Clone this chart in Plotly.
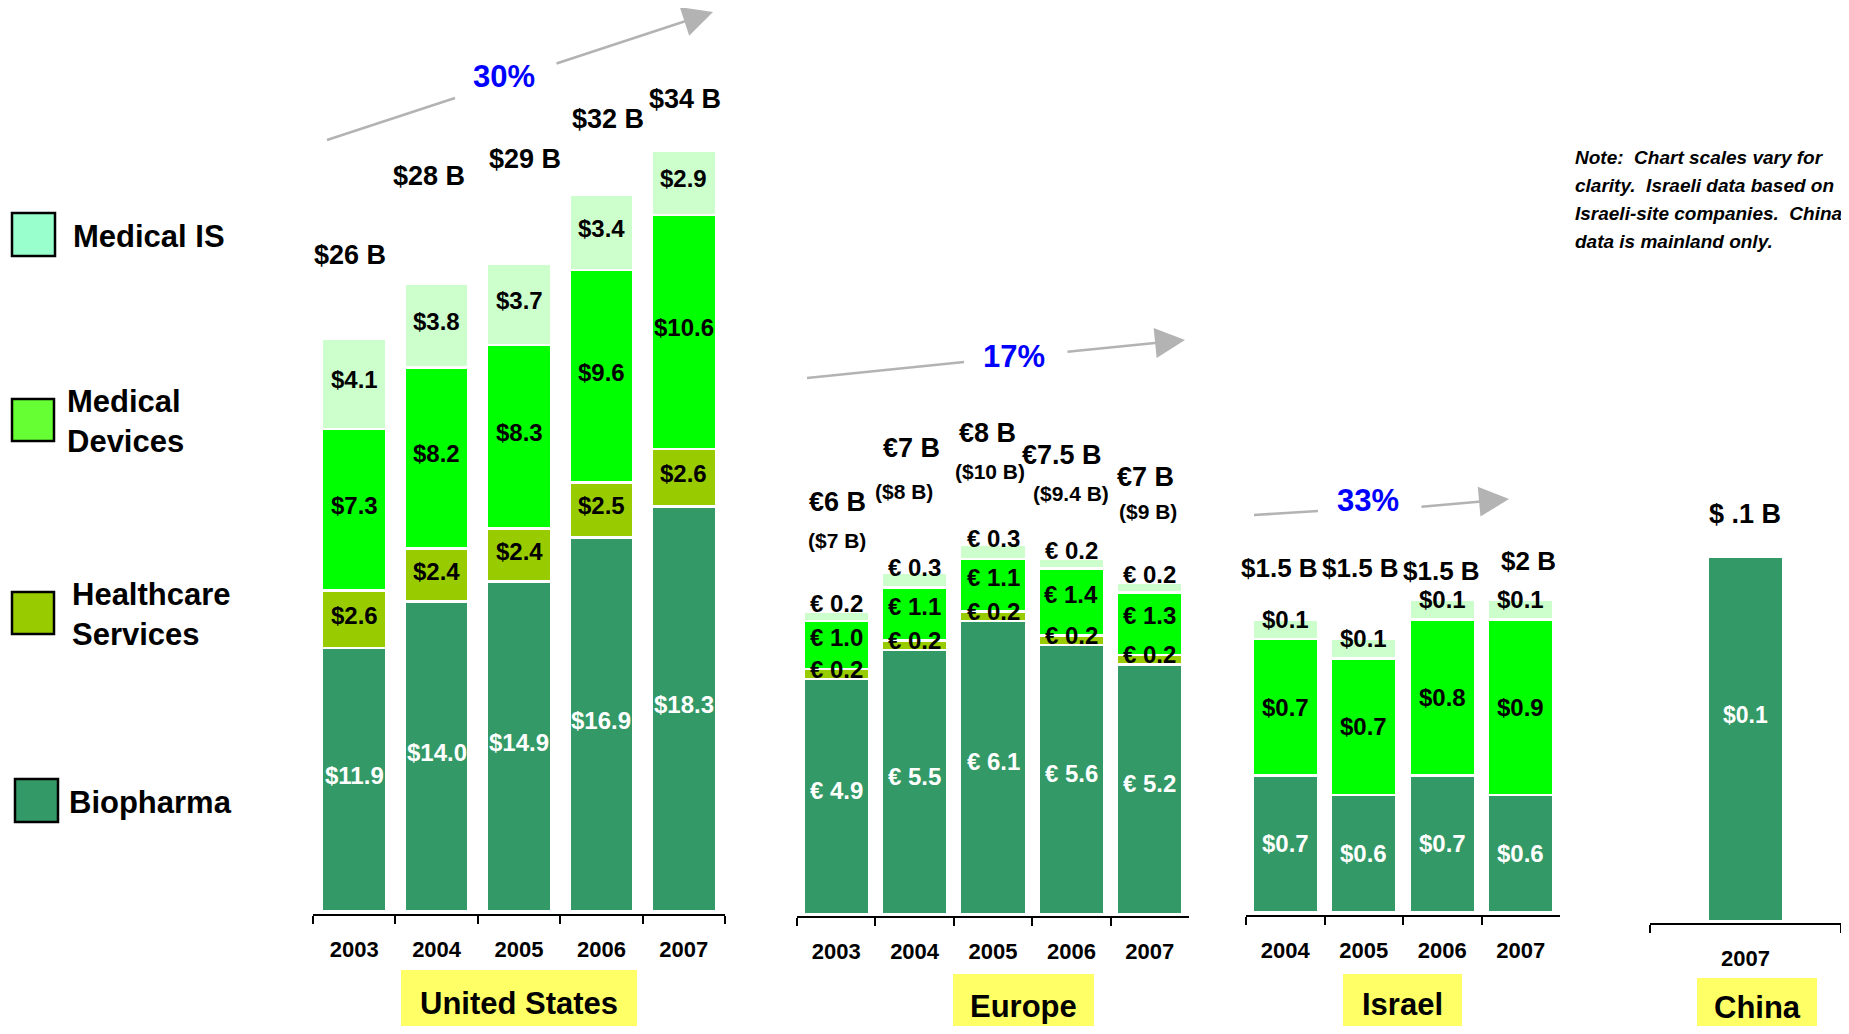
import plotly.graph_objects as go

# ---------------- data ----------------
us_years = ["2003", "2004", "2005", "2006", "2007"]
us_bio = [11.9, 14.0, 14.9, 16.9, 18.3]
us_hs = [2.6, 2.4, 2.4, 2.5, 2.6]
us_md = [7.3, 8.2, 8.3, 9.6, 10.6]
us_mis = [4.1, 3.8, 3.7, 3.4, 2.9]
us_totals = ["$26 B", "$28 B", "$29 B", "$32 B", "$34 B"]

eu_years = ["2003", "2004", "2005", "2006", "2007"]
eu_bio = [4.9, 5.5, 6.1, 5.6, 5.2]
eu_hs = [0.2, 0.2, 0.2, 0.2, 0.2]
eu_md = [1.0, 1.1, 1.1, 1.4, 1.3]
eu_mis = [0.2, 0.3, 0.3, 0.2, 0.2]
eu_totals = ["€6 B", "€7 B", "€8 B", "€7.5 B", "€7 B"]
eu_totals_usd = ["($7 B)", "($8 B)", "($10 B)", "($9.4 B)", "($9 B)"]

il_years = ["2004", "2005", "2006", "2007"]
il_bio = [0.7, 0.6, 0.7, 0.6]
il_hs = [0.0, 0.0, 0.0, 0.0]
il_md = [0.7, 0.7, 0.8, 0.9]
il_mis = [0.1, 0.1, 0.1, 0.1]
il_totals = ["$1.5 B", "$1.5 B", "$1.5 B", "$2 B"]

cn_years = ["2007"]
cn_bio = [0.1]
cn_totals = ["$ .1 B"]

growth = ["30%", "17%", "33%"]
countries = ["United States", "Europe", "Israel", "China"]
series_names = ["Biopharma", "Healthcare Services", "Medical Devices", "Medical IS"]
note_lines = ["Note:  Chart scales vary for", "clarity.  Israeli data based on",
              "Israeli-site companies.  China", "data is mainland only."]

# ---------------- style ----------------
OFF = 8                      # page body margin
W, H = 1849 - 2 * OFF, 1034 - 2 * OFF
FONT = "Liberation Sans, Arial, sans-serif"
C_BIO, C_HS, C_MD, C_MIS = "#339966", "#99cc00", "#00ff00", "#ccffcc"
LEG_COLORS = {"Medical IS": "#99ffcc", "Medical Devices": "#66ff33",
              "Healthcare Services": "#99cc00", "Biopharma": "#339966"}
GRAY = "#b3b3b3"


def X(p):
    return min(1.0, max(0.0, (p - OFF) / W))


def Y(p):
    return min(1.0, max(0.0, 1 - (p - OFF) / H))


def F(size, color="black", style="normal"):
    return dict(family=FONT, size=size, weight="bold", color=color, style=style)


def txt(x, y, text, font, xanchor="center", yanchor="middle"):
    return dict(x=X(x), y=Y(y), xref="paper", yref="paper", text=text, showarrow=False,
                xanchor=xanchor, yanchor=yanchor, font=font)


fig = go.Figure()

# panel geometry (pixels): x domain, axis line y, zero y, px per unit, top y, bar width
panels = [
    dict(ax="", x0=313, x1=725, axis=914, zero=911, scale=22.1, top=20, bw=0.78,
         years=us_years, vals=[us_bio, us_hs, us_md, us_mis], fmt="${:.1f}",
         shifts=[4, 4, 4, 4], size=24),
    dict(ax="2", x0=797, x1=1189, axis=916, zero=914, scale=48.0, top=280, bw=0.84,
         years=eu_years, vals=[eu_bio, eu_hs, eu_md, eu_mis], fmt="€ {:.1f}",
         shifts=[6, 5, 8, 13], size=24),
    dict(ax="3", x0=1246, x1=1560, axis=915, zero=912, scale=195.0, top=400, bw=0.83,
         years=il_years, vals=[il_bio, il_hs, il_md, il_mis], fmt="${:.1f}",
         shifts=[0, 0, 0, 10], size=24),
    dict(ax="4", x0=1650, x1=1841, axis=923, zero=921, scale=3640.0, top=450, bw=0.40,
         years=cn_years, vals=[cn_bio], fmt="${:.1f}",
         shifts=[24], size=23),
]
colors = [C_BIO, C_HS, C_MD, C_MIS]
annotations = []
shapes = []

for p in panels:
    xa = "x" + p["ax"]
    ya = "y" + p["ax"]
    base = [0.0] * len(p["years"])
    for si, vals in enumerate(p["vals"]):
        fig.add_trace(go.Bar(
            x=p["years"], y=vals, base=base[:], width=p["bw"],
            marker=dict(color=colors[si], line=dict(color="white", width=2.5)),
            name=series_names[si], showlegend=False, xaxis=xa, yaxis=ya,
            hoverinfo="skip"))
        for i, v in enumerate(vals):
            if v > 0:
                annotations.append(dict(
                    x=i, y=base[i] + v / 2, xref=xa, yref=ya,
                    xanchor="center", yanchor="middle",
                    text=p["fmt"].format(v), showarrow=False, yshift=p["shifts"][si],
                    font=F(p["size"], "white" if si == 0 else "black")))
        base = [b + v for b, v in zip(base, vals)]
    lo = -(p["axis"] - p["zero"]) / p["scale"]
    hi = (p["zero"] - p["top"]) / p["scale"]
    fig.layout["xaxis" + p["ax"]] = dict(
        domain=[X(p["x0"]), X(p["x1"])], anchor=ya, type="category",
        range=[-0.5, len(p["years"]) - 0.5],
        showline=True, linecolor="black", linewidth=2,
        ticks="outside", tickson="boundaries", ticklen=8, tickwidth=2, tickcolor="black",
        ticklabelstandoff=15,
        tickfont=F(22),
        showgrid=False, zeroline=False, fixedrange=True)
    fig.layout["yaxis" + p["ax"]] = dict(
        domain=[Y(p["axis"]), Y(p["top"])], anchor=xa, range=[lo, hi],
        visible=False, showgrid=False, zeroline=False, fixedrange=True)

# ---------------- total labels ----------------
us_tot_pos = [(350, 255), (429, 176), (525, 159), (608, 119), (685, 99)]
for t, (x, y) in zip(us_totals, us_tot_pos):
    annotations.append(txt(x, y, t, F(27)))
eu_tot_pos = [(837, 502), (911, 448), (987, 433), (1062, 455), (1145, 477)]
eu_usd_pos = [(837, 540), (904, 491), (990, 471), (1071, 493), (1148, 512)]
for t, (x, y) in zip(eu_totals, eu_tot_pos):
    annotations.append(txt(x, y, t, F(27)))
for t, (x, y) in zip(eu_totals_usd, eu_usd_pos):
    annotations.append(txt(x, y, t, F(21)))
il_tot_pos = [(1279, 568), (1360, 568), (1441, 571), (1528, 561)]
for t, (x, y) in zip(il_totals, il_tot_pos):
    annotations.append(txt(x, y, t, F(26)))
annotations.append(txt(1745, 514, cn_totals[0], F(27)))

# ---------------- growth arrows ----------------
arrows = [
    dict(seg=(327, 140, 455, 98), txt=(504, 77), tail=(555, 64), head=(713, 12)),
    dict(seg=(807, 378, 964, 362), txt=(1014, 357), tail=(1066, 352), head=(1185, 340)),
    dict(seg=(1254, 515, 1318, 511), txt=(1368, 501), tail=(1420, 507), head=(1509, 499)),
]
for g, a in zip(growth, arrows):
    x0, y0, x1, y1 = a["seg"]
    shapes.append(dict(type="line", xref="paper", yref="paper", x0=X(x0), y0=Y(y0),
                       x1=X(x1), y1=Y(y1), line=dict(color=GRAY, width=2.5)))
    annotations.append(dict(x=X(a["head"][0]), y=Y(a["head"][1]), xref="paper", yref="paper",
                            ax=a["tail"][0] - a["head"][0], ay=a["tail"][1] - a["head"][1],
                            text="", showarrow=True, arrowhead=2, arrowsize=2.4,
                            arrowwidth=2.5, arrowcolor=GRAY))
    annotations.append(txt(a["txt"][0], a["txt"][1], g, F(31, "#0000ff")))

# ---------------- country boxes ----------------
boxes = [(401, 970, 637, 1034, 1003), (953, 974, 1094, 1034, 1006),
         (1343, 974, 1462, 1034, 1004), (1697, 978, 1817, 1034, 1007)]
for c, (bx0, by0, bx1, by1, ty) in zip(countries, boxes):
    shapes.append(dict(type="rect", xref="paper", yref="paper", x0=X(bx0), y0=Y(by1),
                       x1=X(bx1), y1=Y(by0), fillcolor="#ffff66", line=dict(width=0),
                       layer="below"))
    annotations.append(txt((bx0 + bx1) / 2, ty, c, F(31)))

# ---------------- legend ----------------
legend_items = [
    ("Medical IS", (12, 213, 55, 256), (71, 236)),
    ("Medical<br>Devices", (12, 399, 54, 441), (65, 422)),
    ("Healthcare<br>Services", (12, 592, 54, 634), (70, 614)),
    ("Biopharma", (15, 779, 58, 822), (67, 802)),
]
for (lbl, (bx0, by0, bx1, by1), (tx, ty)), key in zip(
        legend_items, ["Medical IS", "Medical Devices", "Healthcare Services", "Biopharma"]):
    shapes.append(dict(type="rect", xref="paper", yref="paper", x0=X(bx0), y0=Y(by1),
                       x1=X(bx1), y1=Y(by0), fillcolor=LEG_COLORS[key],
                       line=dict(color="black", width=2.5)))
    a = txt(tx, ty, lbl, F(31), xanchor="left")
    a["align"] = "left"
    annotations.append(a)

# ---------------- note ----------------
for line, ly in zip(note_lines, [157, 186, 214, 242]):
    annotations.append(txt(1573, ly, line, F(19, style="italic"), xanchor="left"))

fig.update_layout(
    width=W, height=H, margin=dict(l=0, r=0, t=0, b=0),
    paper_bgcolor="white", plot_bgcolor="rgba(0,0,0,0)",
    barmode="stack", showlegend=False,
    annotations=annotations, shapes=shapes,
    font=dict(family=FONT, color="black"),
)

fig.write_html("out.html")
